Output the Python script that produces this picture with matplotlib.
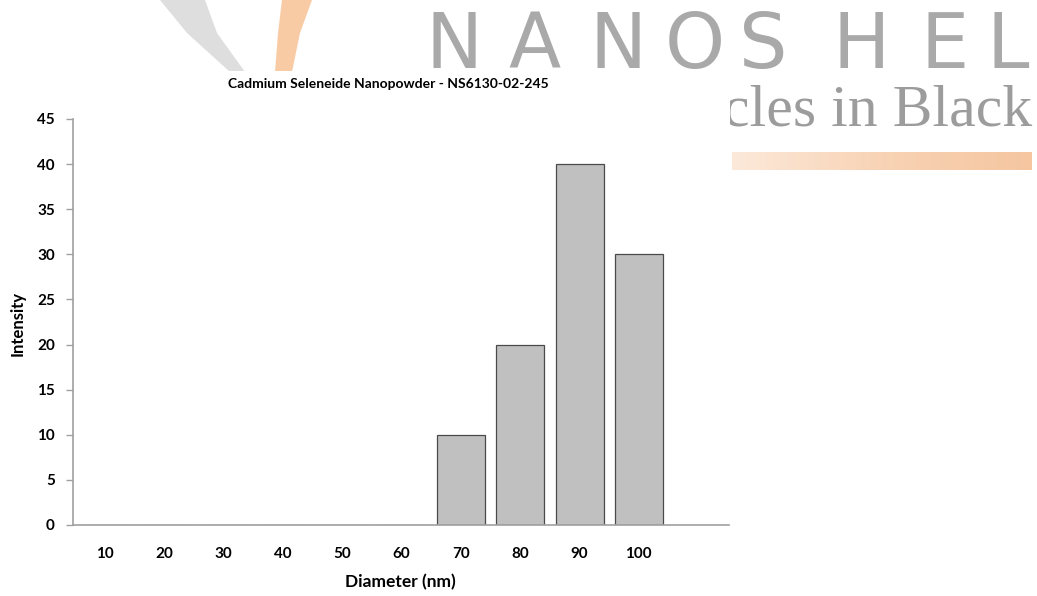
import matplotlib
matplotlib.use("Agg")
import matplotlib.pyplot as plt
import numpy as np
from matplotlib.patches import Polygon, Rectangle
from matplotlib.colors import LinearSegmentedColormap

# data
diameters = ["10", "20", "30", "40", "50", "60", "70", "80", "90", "100"]
intensity = [0, 0, 0, 0, 0, 0, 10, 20, 40, 30]
yticks = [0, 5, 10, 15, 20, 25, 30, 35, 40, 45]

title = "Cadmium Seleneide Nanopowder - NS6130-02-245"
font = "Lato"

W, H = 1037, 596
fig = plt.figure(figsize=(W / 100, H / 100), dpi=100)
fig.patch.set_facecolor("white")


def fx(px):
    return px / W


def fy(py):
    return 1 - py / H


# --- watermark logo behind the chart (pixel positions -> figure coords)
gray_swoosh = [(160, 0), (205, 0), (217, 33), (245, 72), (230, 72), (187, 33)]
orange_swoosh = [(282, 0), (312, 0), (300, 33), (292, 72), (275, 72), (278, 33)]
for pts, col in [(gray_swoosh, "#dedede"), (orange_swoosh, "#f9cba4")]:
    fig.patches.append(Polygon([(fx(x), fy(y)) for x, y in pts], closed=True,
                               transform=fig.transFigure, facecolor=col,
                               edgecolor="none", zorder=-3))

letter_x = [454, 535, 618, 695, 763, 861, 945, 1008]
for ch, lx in zip("NANOSHEL", letter_x):
    fig.text(fx(lx), fy(68), ch, ha="center", va="baseline",
             fontsize=55, color="#a9a9a9", family="DejaVu Sans", zorder=-3)

fig.text(fx(1032), fy(125), "cles in Black", ha="right", va="baseline",
         fontsize=43, color="#9c9c9c", family="Liberation Serif", zorder=-3)

grad_ax = fig.add_axes([fx(732), fy(170), fx(1032) - fx(732), fy(152) - fy(170)], zorder=-3)
cmap = LinearSegmentedColormap.from_list("peach", ["#fce9da", "#f8d3b5", "#f5c6a0"])
grad_ax.imshow(np.linspace(0, 1, 256).reshape(1, -1), aspect="auto", cmap=cmap)
grad_ax.set_axis_off()

# white chart area over the watermark
fig.patches.append(Rectangle((0, 0), fx(730), fy(71), transform=fig.transFigure,
                             facecolor="white", edgecolor="none", zorder=-2))

# --- chart
ax = fig.add_axes([fx(73), fy(525), fx(729) - fx(73), fy(119) - fy(525)])
ax.set_facecolor("none")
x = np.arange(len(diameters))
ax.bar(x, intensity, width=0.81, color="#c0c0c0", edgecolor="#4a4a4a", linewidth=0.9)

ax.set_xlim(-0.54, 10.52)
ax.set_ylim(0, 45)
ax.set_yticks(yticks)
ax.set_yticklabels([str(v) for v in yticks], fontsize=11, fontweight="bold", family=font)
ax.set_xticks(x)
ax.set_xticklabels(diameters, fontsize=11, fontweight="bold", family=font)
ax.tick_params(axis="x", length=0, pad=16)
ax.tick_params(axis="y", length=5, width=1, color="#a0a0a0", pad=8)

for side in ["top", "right"]:
    ax.spines[side].set_visible(False)
for side in ["left", "bottom"]:
    ax.spines[side].set_color("#a0a0a0")
    ax.spines[side].set_linewidth(1.2)

fig.text(fx(388), fy(84), title, ha="center", va="center", fontsize=10,
         fontweight="bold", family=font)
fig.text(fx(400), fy(582), "Diameter (nm)", ha="center", va="center",
         fontsize=12.5, fontweight="bold", family=font)
fig.text(fx(18), fy(323), "Intensity", ha="center", va="center", rotation=90,
         fontsize=12, fontweight="bold", family=font)

fig.savefig("out.png", dpi=100)
